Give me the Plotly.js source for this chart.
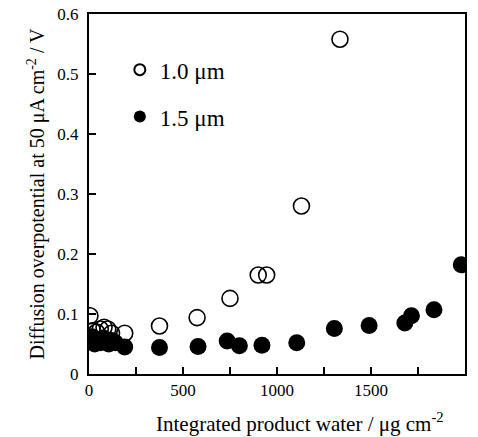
<!DOCTYPE html>
<html><head><meta charset="utf-8">
<script src="https://cdn.plot.ly/plotly-3.0.1.min.js"></script>
<style>body{margin:0;background:#fff}#c{width:478px;height:437px}</style>
</head><body><div id="c"></div>
<script>
const xOpen = [5, 20, 40, 60, 80, 100, 120, 190, 375, 575, 750, 900, 945, 1130, 1335];
const yOpen = [0.097, 0.072, 0.070, 0.075, 0.078, 0.075, 0.068, 0.068, 0.080, 0.094, 0.126, 0.165, 0.165, 0.280, 0.558];
const xFilled = [5, 15, 30, 45, 60, 75, 90, 105, 120, 140, 190, 375, 580, 735, 800, 920, 1105, 1305, 1490, 1680, 1715, 1835, 1980];
const yFilled = [0.055, 0.062, 0.050, 0.058, 0.052, 0.060, 0.055, 0.050, 0.056, 0.052, 0.045, 0.044, 0.046, 0.055, 0.047, 0.048, 0.052, 0.076, 0.081, 0.085, 0.097, 0.107, 0.182];
const names = ['1.0 μm', '1.5 μm'];
const xTicks = [0, 500, 1000, 1500, 2000];
const yTicks = [0, 0.1, 0.2, 0.3, 0.4, 0.5, 0.6];
const xTitle = 'Integrated product water / μg cm<sup>-2</sup>';
const yTitle = 'Diffusion overpotential at 50 μA cm<sup>-2</sup> / V';

const font = {family: '"Liberation Serif", "Times New Roman", serif', color: '#000'};
const traces = [
  {x: xOpen, y: yOpen, name: names[0], mode: 'markers', type: 'scatter', showlegend: false,
   marker: {symbol: 'circle-open', size: 16, color: '#000', line: {width: 1.6, color: '#000'}}},
  {x: xFilled, y: yFilled, name: names[1], mode: 'markers', type: 'scatter', showlegend: false,
   marker: {symbol: 'circle', size: 17, color: '#000'}},
  {x: [null], y: [null], name: names[0], mode: 'markers', type: 'scatter', legendgroup: 'a',
   marker: {symbol: 'circle-open', size: 11, color: '#000', line: {width: 2, color: '#000'}}},
  {x: [null], y: [null], name: names[1], mode: 'markers', type: 'scatter', legendgroup: 'b',
   marker: {symbol: 'circle', size: 12, color: '#000'}}
];
const layout = {
  width: 478, height: 437,
  margin: {l: 89, r: 13, t: 14, b: 63},
  paper_bgcolor: '#fff', plot_bgcolor: '#fff',
  font: Object.assign({size: 17}, font),
  showlegend: true,
  legend: {x: 0.082, y: 0.905, xanchor: 'left', yanchor: 'top', bgcolor: 'rgba(0,0,0,0)',
           font: Object.assign({size: 23}, font), traceorder: 'grouped', tracegroupgap: 14,
           itemwidth: 30},
  xaxis: {range: [0, 2000], tickvals: xTicks, ticktext: xTicks.map(String), ticks: 'inside', ticklen: 7,
          tickwidth: 1.5, tickcolor: '#000', showline: true, linecolor: '#000', linewidth: 2, mirror: true,
          showgrid: false, zeroline: false, tickfont: Object.assign({size: 17}, font),
          minor: {dtick: 250, ticks: 'inside', ticklen: 7, tickwidth: 1.5, tickcolor: '#000', showgrid: false}},
  yaxis: {range: [0, 0.6], tickvals: yTicks, ticktext: yTicks.map(String), ticks: 'inside', ticklen: 7,
          tickwidth: 1.5, tickcolor: '#000', showline: true, linecolor: '#000', linewidth: 2, mirror: true,
          showgrid: false, zeroline: false, tickfont: Object.assign({size: 17}, font), ticklabelstandoff: 5,
          title: {text: yTitle, font: Object.assign({size: 20}, font), standoff: 7}},
  annotations: [
    {text: xTitle, xref: 'paper', yref: 'paper', x: 0.561, y: -0.136, xanchor: 'center', yanchor: 'middle',
     showarrow: false, font: Object.assign({size: 21}, font)}
  ]
};
Plotly.newPlot('c', traces, layout, {displayModeBar: false, staticPlot: true});
</script></body></html>
